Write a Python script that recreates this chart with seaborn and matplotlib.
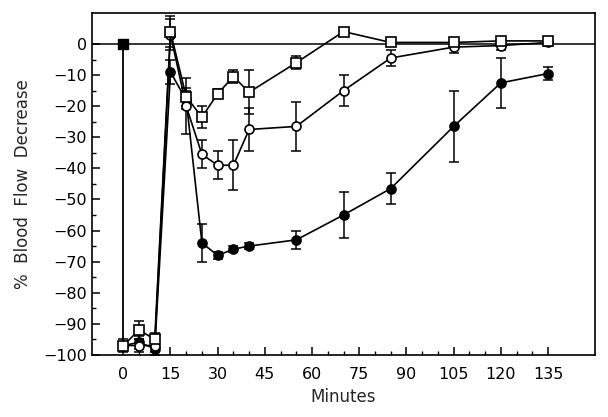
import numpy as np
import pandas as pd
import matplotlib
matplotlib.use("Agg")
import matplotlib.pyplot as plt
import seaborn as sns
from matplotlib.ticker import FixedLocator

# minutes after occlusion
minutes = [0, 5, 10, 15, 20, 25, 30, 35, 40, 55, 70, 85, 105, 120, 135]

# open squares
sq_open = [-97, -92, -95, 4, -17, -23.5, -16, -10.5, -15.5, -6, 4, 0.5, 0.5, 1, 1]
sq_open_err = [2, 3, 2, 5, 3, 3.5, 1.5, 2, 7, 2, 0, 1, 1, 1, 1]

# open circles
ci_open = [-97, -97, -97, 3, -20, -35.5, -39, -39, -27.5, -26.5, -15, -4.5, -1, -0.5, 0.5]
ci_open_err = [1, 2, 2, 5, 9, 4.5, 4.5, 8, 7, 8, 5, 2.5, 2, 1.5, 1]

# filled circles
ci_fill = [-97, -96, -98, -9, -18, -64, -68, -66, -65, -63, -55, -46.5, -26.5, -12.5, -9.5]
ci_fill_err = [1, 2, 2, 4, 3, 6, 1, 1, 1, 3, 7.5, 5, 11.5, 8, 2]

# pre-occlusion baseline
base_t = [0, 0]
base_v = [0, -97]

xticks = [0, 15, 30, 45, 60, 75, 90, 105, 120, 135]

sns.set_style("ticks")
plt.rcParams['font.family'] = ['DejaVu Sans']

fig = plt.figure(figsize=(6.08, 4.17), dpi=100)
ax = fig.add_axes([0.151, 0.149, 0.828, 0.82])

ax.axhline(0, color="black", lw=1.1, zorder=1)

sns.lineplot(x=base_t, y=base_v, ax=ax, color="black", lw=1.3, estimator=None,
             sort=False, zorder=2)
ax.plot(base_t[:1], base_v[:1], marker="s", ms=6.5, color="black", ls="none", zorder=5)

series = [
    (ci_fill, ci_fill_err, "o", "black"),
    (ci_open, ci_open_err, "o", "white"),
    (sq_open, sq_open_err, "s", "white"),
]
for vals, err, mk, fc in series:
    ax.errorbar(minutes, vals, yerr=err, fmt="none", ecolor="black",
                elinewidth=1.1, capsize=3.5, capthick=1.1, zorder=2)
    sns.lineplot(x=minutes, y=vals, ax=ax, color="black", lw=1.2, estimator=None,
                 sort=False, marker=mk, markersize=6.5, markerfacecolor=fc,
                 markeredgecolor="black", markeredgewidth=1.2, zorder=3)

ax.set_xlim(-10, 150)
ax.set_ylim(-100, 10)
ax.xaxis.set_major_locator(FixedLocator(xticks))
ax.xaxis.set_minor_locator(FixedLocator(np.arange(0, 136, 5)))
ax.yaxis.set_major_locator(FixedLocator(np.arange(-100, 1, 10)))
ax.yaxis.set_minor_locator(FixedLocator(np.arange(-100, 1, 5)))
ax.tick_params(which="both", direction="in", colors="black", labelsize=11.5)
ax.tick_params(which="major", length=6, width=1.1)
ax.tick_params(which="minor", length=3, width=1)
ax.tick_params(axis="x", which="major", pad=9)
for s in ax.spines.values():
    s.set_linewidth(1.2)
    s.set_color("black")

ax.set_xlabel("Minutes", fontsize=12, labelpad=4)
ax.set_ylabel("%  Blood  Flow  Decrease", fontsize=12, labelpad=8)

fig.savefig("out.png", dpi=100)
